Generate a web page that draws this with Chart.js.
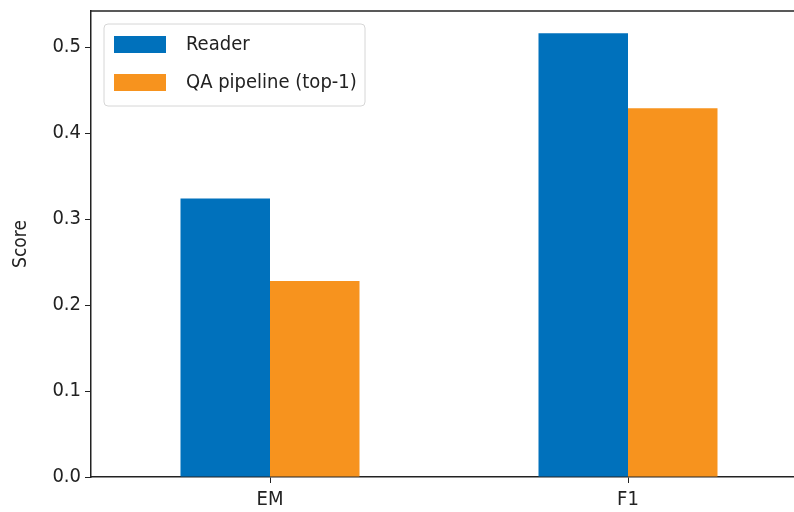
<!DOCTYPE html>
<html lang="en">
<head>
    <meta charset="UTF-8">
    <title>Reader vs QA pipeline</title>
    <script src="https://cdn.jsdelivr.net/npm/chart.js@4.4.0/dist/chart.umd.min.js"></script>
    <style>
        html, body {
            margin: 0;
            padding: 0;
            background: #fff;
            overflow: hidden;
        }
        .wrap {
            width: 794px;
            height: 512px;
            overflow: hidden;
        }
        .inner {
            width: 812px;
            height: 512px;
        }
    </style>
</head>
<body>
    <div class="wrap">
        <div class="inner">
            <canvas id="chart" width="812" height="512"></canvas>
        </div>
    </div>

    <script>
        const categories = ['EM', 'F1'];
        const readerScores = [0.324, 0.516];
        const pipelineScores = [0.228, 0.429];
        const yTicks = [0.0, 0.1, 0.2, 0.3, 0.4, 0.5];

        const FONT = "'DejaVu Sans Condensed', sans-serif";
        const BLUE = '#0071bc';
        const ORANGE = '#f7931e';

        // legend drawn inside the plot, top-left, plus the top spine
        const frameAndLegend = {
            id: 'frameAndLegend',
            afterDraw(chart) {
                const ctx = chart.ctx;
                const a = chart.chartArea;
                ctx.save();
                ctx.strokeStyle = '#222';
                ctx.lineWidth = 1.5;
                ctx.beginPath();
                ctx.moveTo(a.left, a.top);
                ctx.lineTo(a.right, a.top);
                ctx.stroke();

                const x0 = a.left + 13, y0 = a.top + 13;
                ctx.fillStyle = 'rgba(255,255,255,0.8)';
                ctx.strokeStyle = '#d6d6d6';
                ctx.lineWidth = 1;
                ctx.beginPath();
                ctx.roundRect(x0, y0, 261, 82, 4);
                ctx.fill();
                ctx.stroke();

                ctx.font = '20px ' + FONT;
                ctx.textBaseline = 'middle';
                chart.data.datasets.forEach((ds, i) => {
                    const cy = y0 + 20.5 + i * 38;
                    ctx.fillStyle = ds.backgroundColor;
                    ctx.fillRect(x0 + 10, cy - 8.5, 52, 17);
                    ctx.fillStyle = '#222';
                    ctx.fillText(ds.label, x0 + 82, cy);
                });
                ctx.restore();
            }
        };

        new Chart(document.getElementById('chart'), {
            type: 'bar',
            data: {
                labels: categories,
                datasets: [
                    { label: 'Reader', data: readerScores, backgroundColor: BLUE },
                    { label: 'QA pipeline (top-1)', data: pipelineScores, backgroundColor: ORANGE }
                ]
            },
            options: {
                responsive: false,
                animation: false,
                categoryPercentage: 0.5,
                barPercentage: 1.0,
                layout: { padding: { top: 11, right: 5, left: 0, bottom: 0 } },
                plugins: {
                    legend: { display: false },
                    tooltip: { enabled: false }
                },
                scales: {
                    x: {
                        grid: { display: true, offset: false, drawOnChartArea: false, tickLength: 6, color: '#222' },
                        border: { color: '#222', width: 1.5 },
                        ticks: { color: '#222', font: { family: FONT, size: 20 }, padding: 5 },
                        afterFit(scale) { scale.height = 35; }
                    },
                    y: {
                        min: 0,
                        max: 0.542,
                        afterBuildTicks(scale) {
                            scale.ticks = yTicks.map(v => ({ value: v }));
                        },
                        grid: { display: true, drawOnChartArea: false, tickLength: 6, color: '#222' },
                        border: { color: '#222', width: 1.5 },
                        ticks: {
                            color: '#222',
                            font: { family: FONT, size: 20 },
                            padding: 4,
                            callback: v => Number(v).toFixed(1)
                        },
                        title: {
                            display: true,
                            text: 'Score',
                            color: '#222',
                            font: { family: FONT, size: 19 },
                            padding: { top: 10, bottom: 0 }
                        },
                        afterFit(scale) {
                            scale.width = 91;
                            scale.paddingTop = 0;
                            scale.paddingBottom = 0;
                        }
                    }
                }
            },
            plugins: [frameAndLegend]
        });
    </script>
</body>
</html>
